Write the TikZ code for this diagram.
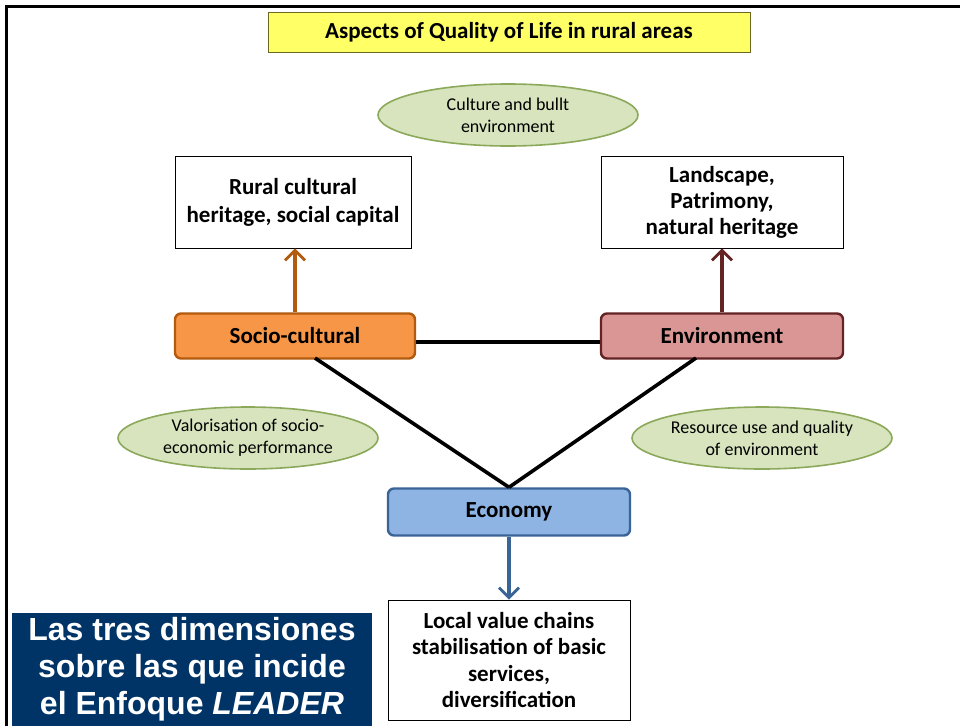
\documentclass[tikz,border=0pt]{standalone}
\usepackage{fontspec}
\setmainfont{Carlito}
\newfontfamily\arialfont{Liberation Sans}
\usetikzlibrary{shapes.geometric,arrows.meta}
\definecolor{titleyellow}{HTML}{FFFF66}
\definecolor{ovalfill}{HTML}{D7E4BD}
\definecolor{ovaldraw}{HTML}{8CA85A}
\definecolor{sociofill}{HTML}{F79646}
\definecolor{sociodraw}{HTML}{B25B0E}
\definecolor{envfill}{HTML}{D99694}
\definecolor{envdraw}{HTML}{632423}
\definecolor{ecofill}{HTML}{8EB4E3}
\definecolor{ecodraw}{HTML}{3A6496}
\definecolor{navy}{HTML}{003366}
\tikzset{
  infobox/.style={draw=black, line width=0.8pt, fill=white, align=center,
    font=\fontsize{23}{28}\selectfont\bfseries, inner sep=2pt},
  dimbox/.style={rounded corners=6pt, line width=2.4pt, align=center,
    minimum height=45pt, font=\fontsize{23}{27}\selectfont\bfseries},
  oval/.style={ellipse, draw=ovaldraw, fill=ovalfill, line width=1.6pt,
    align=center, minimum width=260pt, minimum height=62pt, inner sep=0pt,
    font=\fontsize{18}{22}\selectfont},
  link/.style={line width=3.6pt, black},
  uparrow/.style={line width=3.4pt, -{Straight Barb[length=10pt,width=20pt,line width=2.8pt]}},
}
\begin{document}
\begin{tikzpicture}[x=1pt,y=-1pt]
\useasboundingbox (0,0) rectangle (960,726);
\fill[white] (0,0) rectangle (960,726);
% slide frame
\draw[line width=3pt] (6,726) -- (6,6) -- (960,6);

% title
\node[draw=olive!70!black, fill=titleyellow, line width=0.8pt, minimum width=482pt,
  minimum height=40pt, font=\fontsize{23}{26}\selectfont\bfseries]
  (title) at (509,32) {Aspects of Quality of Life in rural areas};

% ovals
\node[oval] (culture) at (508,115) {Culture and bullt\\environment};
\node[oval] (valor) at (248,438) {Valorisation of socio-\\economic performance};
\node[oval] (resource) at (762,438) {Resource use and quality\\of environment};

% information boxes
\node[infobox, minimum width=236pt, minimum height=92pt] (heritage) at (293,202)
  {Rural cultural\\heritage, social capital};
\node[infobox, minimum width=242pt, minimum height=92pt,
  font=\fontsize{23}{26}\selectfont\bfseries] (landscape) at (722,202)
  {Landscape,\\Patrimony,\\natural heritage};
\node[infobox, minimum width=242pt, minimum height=120pt,
  font=\fontsize{23}{26.3}\selectfont\bfseries] (chains) at (509,660)
  {Local value chains\\stabilisation of basic\\services,\\diversification};

% the three dimensions
\node[dimbox, fill=sociofill, draw=sociodraw, minimum width=240pt] (socio) at (295,336) {Socio-cultural};
\node[dimbox, fill=envfill, draw=envdraw, minimum width=242pt] (env) at (722,336) {Environment};
\node[dimbox, fill=ecofill, draw=ecodraw, minimum width=242pt, minimum height=47pt] (eco) at (509,512) {Economy};

% connectors
\coordinate (mid) at (0,342);
\draw[link] (socio.east |- mid) -- (env.west |- mid);
\coordinate (sb) at (315,358);
\coordinate (eb) at (696,358);
\draw[link] (sb) -- (eco.north);
\draw[link] (eb) -- (eco.north);
\draw[uparrow, draw=sociodraw] (socio.north) -- (socio.north |- heritage.south);
\draw[uparrow, draw=envdraw] (env.north) -- (landscape.south);
\draw[uparrow, draw=ecodraw] (eco.south) -- (chains.north);

% caption
\node[fill=navy, text=white, minimum width=360pt, minimum height=113pt, align=center,
  inner sep=0pt, font=\arialfont\fontsize{32}{37}\selectfont\bfseries]
  (caption) at (192,669.5) {Las tres dimensiones\\sobre las que incide\\el Enfoque \textit{LEADER}};
\end{tikzpicture}
\end{document}
